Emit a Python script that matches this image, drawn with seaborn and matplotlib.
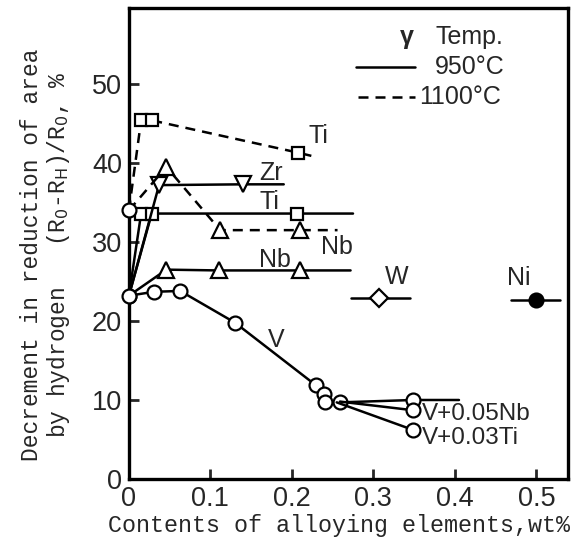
import pandas as pd
import matplotlib
matplotlib.use("Agg")
import matplotlib.pyplot as plt
import seaborn as sns

# --- data ---
v_x = [0, 0.031, 0.063, 0.13, 0.229, 0.239, 0.241, 0.259, 0.349, 0.405]
v_y = [23.2, 23.7, 23.8, 19.8, 11.9, 10.8, 9.8, 9.7, 10.0, 10.0]
vnb_x = [0.259, 0.349]
vnb_y = [9.8, 8.7]
vti_x = [0.255, 0.349]
vti_y = [9.7, 6.2]

ti950_x = [0, 0.028, 0.206, 0.275]
ti950_y = [23.2, 33.6, 33.6, 33.6]
ti950b_x = [0, 0.015]
ti950b_y = [23.2, 33.6]
ti1100_x = [0, 0.015, 0.028, 0.208, 0.228]
ti1100_y = [34.0, 45.4, 45.4, 41.3, 40.8]

zr950_x = [0, 0.037, 0.14, 0.19]
zr950_y = [23.2, 37.2, 37.3, 37.3]

nb950_x = [0, 0.046, 0.11, 0.21, 0.272]
nb950_y = [23.2, 26.5, 26.4, 26.4, 26.4]
nb1100_x = [0, 0.046, 0.112, 0.21, 0.256]
nb1100_y = [34.0, 39.5, 31.5, 31.5, 31.5]

w_x = [0.273, 0.307, 0.345]
w_y = [22.9, 22.9, 22.9]
ni_x = [0.469, 0.50, 0.529]
ni_y = [22.7, 22.7, 22.7]

base_x = [0, 0]
base_y = [23.2, 34.0]

labels = ["Ti", "Zr", "Ti", "Nb", "Nb", "W", "Ni", "V", "V+0.05Nb", "V+0.03Ti"]
label_x = [0.220, 0.160, 0.160, 0.236, 0.160, 0.314, 0.464, 0.170, 0.360, 0.360]
label_y = [43.4, 38.7, 35.1, 29.4, 27.7, 25.6, 25.4, 17.6, 8.2, 5.2]

sns.set_style("white")
plt.rcParams["font.family"] = ["Liberation Sans", "DejaVu Sans"]

fig = plt.figure(figsize=(5.78, 5.44), dpi=100)
ax = fig.add_axes([0.223, 0.1195, 0.76, 0.8655])

LW = 1.8
DASH = (0, (4, 2.8))
FS = 18
open_kw = dict(markerfacecolor="white", markeredgecolor="black", markeredgewidth=1.6)


def draw(x, y, marker, mark_idx, dashed=False, size=10, **extra):
    df = pd.DataFrame({"x": x, "y": y})
    kw = dict(open_kw)
    kw.update(extra)
    sns.lineplot(data=df, x="x", y="y", ax=ax, color="black", lw=LW,
                 estimator=None, sort=False, marker=marker, markersize=size,
                 markevery=mark_idx, linestyle=DASH if dashed else "-", **kw)


draw(v_x, v_y, "o", list(range(9)))
draw(vnb_x, vnb_y, "o", [1])
draw(vti_x, vti_y, "o", [1])
draw(ti950b_x, ti950b_y, "s", [1], size=9)
draw(ti950_x, ti950_y, "s", [1, 2], size=9)
draw(ti1100_x, ti1100_y, "s", [1, 2, 3], dashed=True, size=9)
draw(zr950_x, zr950_y, "v", [1, 2], size=11)
draw(nb950_x, nb950_y, "^", [1, 2, 3], size=11)
draw(nb1100_x, nb1100_y, "^", [1, 2, 3], dashed=True, size=11)
draw(w_x, w_y, "D", [1], size=9)
draw(ni_x, ni_y, "o", [1], size=10, markerfacecolor="black")
# open circles at zero content
ax.plot(base_x, base_y, linestyle="none", marker="o", markersize=10,
        clip_on=False, zorder=5, **open_kw)

for t, tx, ty in zip(labels, label_x, label_y):
    ax.text(tx, ty, t, fontsize=FS if len(t) < 4 else 17.5, va="center", ha="left")

# legend drawn as in the original
ax.text(0.333, 56.0, "\u03b3", fontsize=FS, fontweight="bold", va="center")
ax.text(0.376, 56.0, "Temp.", fontsize=FS, va="center")
ax.plot([0.279, 0.351], [52.2, 52.2], color="black", lw=LW)
ax.text(0.376, 52.2, "950°C", fontsize=FS, va="center")
ax.plot([0.281, 0.351], [48.4, 48.4], color="black", lw=LW, linestyle=DASH)
ax.text(0.356, 48.4, "1100°C", fontsize=FS, va="center")

ax.set_xlim(0, 0.539)
ax.set_ylim(0, 59.6)
ax.set_xticks([0, 0.1, 0.2, 0.3, 0.4, 0.5])
ax.set_xticklabels(["0", "0.1", "0.2", "0.3", "0.4", "0.5"])
ax.set_yticks([0, 10, 20, 30, 40, 50])
ax.tick_params(direction="in", length=7, width=2, labelsize=19.5,
               bottom=True, left=True, top=False, right=False, pad=5)
for s in ax.spines.values():
    s.set_linewidth(2.4)
    s.set_color("black")

mono = ["Liberation Mono", "DejaVu Sans Mono"]
ax.set_xlabel("Contents of alloying elements,wt%", fontsize=16.8, family=mono)
ax.xaxis.set_label_coords(0.478, -0.074)
ax.set_ylabel("Decrement in reduction of area\nby hydrogen   (R$_0$-R$_\\mathrm{H}$)/R$_0$, %",
              fontsize=16.5, family=mono, linespacing=1.1)
ax.yaxis.set_label_coords(-0.13, 0.477)

fig.savefig("out.png", dpi=100)
